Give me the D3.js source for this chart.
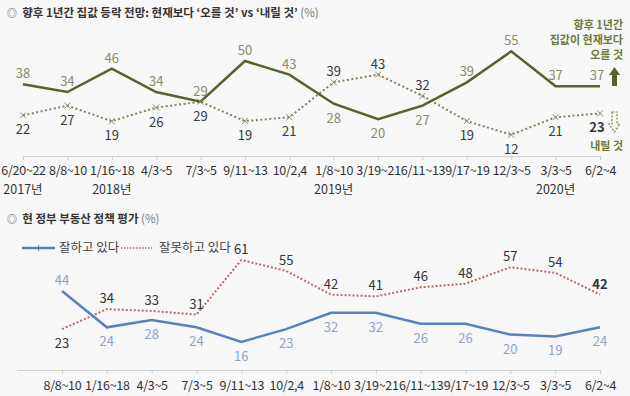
<!DOCTYPE html>
<html>
<head>
<meta charset="utf-8">
<script src="https://cdn.jsdelivr.net/npm/d3@7"></script>
<style>
  body { margin: 0; background: #f7f7f7; }
  svg { display: block; font-family: "Noto Sans CJK KR", "Noto Sans", sans-serif; }
</style>
</head>
<body>
<svg id="chart" width="630" height="396"></svg>
<script>
// top chart: house price outlook
const topDates = ["6/20~22", "8/8~10", "1/16~18", "4/3~5", "7/3~5", "9/11~13", "10/2,4", "1/8~10", "3/19~21", "6/11~13", "9/17~19", "12/3~5", "3/3~5", "6/2~4"];
const topYears = [["6/20~22", "2017년"], ["1/16~18", "2018년"], ["1/8~10", "2019년"], ["3/3~5", "2020년"]];
const riseValues = [38, 34, 46, 34, 29, 50, 43, 28, 20, 27, 39, 55, 37, 37];
const fallValues = [22, 27, 19, 26, 29, 19, 21, 39, 43, 32, 19, 12, 21, 23];

// bottom chart: policy evaluation
const bottomDates = ["8/8~10", "1/16~18", "4/3~5", "7/3~5", "9/11~13", "10/2,4", "1/8~10", "3/19~21", "6/11~13", "9/17~19", "12/3~5", "3/3~5", "6/2~4"];
const goodValues = [44, 24, 28, 24, 16, 23, 32, 32, 26, 26, 20, 19, 24];
const badValues = [23, 34, 33, 31, 61, 55, 42, 41, 46, 48, 57, 54, 42];

const svg = d3.select("#chart");

const olive = "#56622f";
const oliveDot = "#80845f";
const oliveText = "#8a8c6c";
const blue = "#5b80c0";
const blueText = "#8ea2c9";
const red = "#b86a66";

// titles
function title(y, text) {
  const t = svg.append("text").attr("x", 7).attr("y", y).attr("font-size", 11.5).attr("fill", "#333");
  t.append("tspan").attr("font-size", 10).attr("fill", "#555").text("◎ ");
  t.append("tspan").attr("dx", 3).attr("font-weight", "bold").text(text);
  t.append("tspan").attr("fill", "#777").text(" (%)");
}
title(17, "향후 1년간 집값 등락 전망: 현재보다 ‘오를 것’ vs ‘내릴 것’");
title(223, "현 정부 부동산 정책 평가");

// ---------- top chart ----------
const x1 = d3.scalePoint().domain(topDates).range([23, 600]);
const y1 = d3.scaleLinear().domain([0, 50]).range([158, 61]);

const axis1 = svg.append("g")
  .attr("transform", "translate(0,156)")
  .call(d3.axisBottom(x1).tickSize(4).tickSizeOuter(0).tickPadding(6));
axis1.select(".domain").attr("stroke", "#cfcfcf");
axis1.selectAll(".tick line").attr("stroke", "#cfcfcf");
axis1.selectAll(".tick text").attr("font-size", 12.5).attr("fill", "#333")
  .attr("font-family", "'Noto Sans CJK KR', sans-serif").attr("letter-spacing", "-0.3");

svg.append("g").selectAll("text")
  .data(topYears)
  .join("text")
  .attr("x", (d) => x1(d[0]))
  .attr("y", 194)
  .attr("text-anchor", "middle")
  .attr("font-size", 12.5)
  .attr("fill", "#333")
  .text((d) => d[1]);

const line1 = d3.line().x((d, i) => x1(topDates[i])).y((d) => y1(d));

svg.append("path")
  .datum(fallValues)
  .attr("fill", "none")
  .attr("stroke", oliveDot)
  .attr("stroke-width", 2)
  .attr("stroke-dasharray", "2,2.5")
  .attr("d", line1);

svg.append("path")
  .datum(riseValues)
  .attr("fill", "none")
  .attr("stroke", olive)
  .attr("stroke-width", 2.5)
  .attr("d", line1);

// x markers on the falling series
svg.append("g").selectAll("path")
  .data(fallValues)
  .join("path")
  .attr("transform", (d, i) => `translate(${x1(topDates[i])},${y1(d)})`)
  .attr("d", "M-3,-3L3,3M-3,3L3,-3")
  .attr("stroke", "#8d8f70")
  .attr("stroke-width", 1);

// labels: higher series above, lower below
svg.append("g").selectAll("text")
  .data(riseValues)
  .join("text")
  .attr("x", (d, i) => x1(topDates[i]) - (i == topDates.length - 1 ? 3 : 0))
  .attr("y", (d, i) => y1(d) + (d >= fallValues[i] ? -6 : 19))
  .attr("text-anchor", "middle")
  .attr("font-size", 13)
  .attr("fill", oliveText)
  .text((d) => d);

svg.append("g").selectAll("text")
  .data(fallValues)
  .join("text")
  .attr("x", (d, i) => x1(topDates[i]) - (i == topDates.length - 1 ? 3 : 0))
  .attr("y", (d, i) => y1(d) + (d > riseValues[i] ? -6 : 19))
  .attr("text-anchor", "middle")
  .attr("font-size", 13)
  .attr("font-weight", (d, i) => (i == topDates.length - 1 ? "bold" : "normal"))
  .attr("fill", "#3a3a3a")
  .text((d) => d);

// side annotation
const note = svg.append("g").attr("font-size", 11).attr("font-weight", "bold").attr("fill", "#6c7a3c").attr("text-anchor", "end");
["향후 1년간", "집값이 현재보다", "오를 것"].forEach((t, i) => {
  note.append("text").attr("x", 623).attr("y", 29 + i * 15).text(t);
});
note.append("text").attr("x", 623).attr("y", 150).text("내릴 것");

svg.append("path")
  .attr("d", "M614.5,67L620,75L617,75L617,86L612,86L612,75L609,75Z")
  .attr("fill", olive);
svg.append("path")
  .attr("d", "M612,112L617,112L617,124L620,124L614.5,132L609,124L612,124Z")
  .attr("fill", "none")
  .attr("stroke", "#7d8a4a")
  .attr("stroke-width", 1.2)
  .attr("stroke-dasharray", "2,1.5");

// ---------- bottom chart ----------
const x2 = d3.scalePoint().domain(bottomDates).range([62, 600]);
const y2 = d3.scaleLinear().domain([0, 61]).range([371, 260]);

svg.append("line")
  .attr("x1", 17).attr("x2", 62).attr("y1", 370.5).attr("y2", 370.5)
  .attr("stroke", "#cfcfcf");
const axis2 = svg.append("g")
  .attr("transform", "translate(0,370)")
  .call(d3.axisBottom(x2).tickSize(4).tickSizeOuter(0).tickPadding(7));
axis2.select(".domain").attr("stroke", "#cfcfcf");
axis2.selectAll(".tick line").attr("stroke", "#cfcfcf");
axis2.selectAll(".tick text").attr("font-size", 12.5).attr("fill", "#333")
  .attr("font-family", "'Noto Sans CJK KR', sans-serif").attr("letter-spacing", "-0.3");

const line2 = d3.line().x((d, i) => x2(bottomDates[i])).y((d) => y2(d));

svg.append("path")
  .datum(badValues)
  .attr("fill", "none")
  .attr("stroke", red)
  .attr("stroke-width", 2)
  .attr("stroke-dasharray", "2,2")
  .attr("d", line2);

svg.append("path")
  .datum(goodValues)
  .attr("fill", "none")
  .attr("stroke", blue)
  .attr("stroke-width", 2.5)
  .attr("d", line2);

svg.append("g").selectAll("text")
  .data(badValues)
  .join("text")
  .attr("x", (d, i) => x2(bottomDates[i]))
  .attr("y", (d, i) => y2(d) + (d > goodValues[i] ? -6 : 19))
  .attr("text-anchor", "middle")
  .attr("font-size", 13)
  .attr("font-weight", (d, i) => (i == bottomDates.length - 1 ? "bold" : "normal"))
  .attr("fill", "#333")
  .text((d) => d);

svg.append("g").selectAll("text")
  .data(goodValues)
  .join("text")
  .attr("x", (d, i) => x2(bottomDates[i]))
  .attr("y", (d, i) => y2(d) + (d > badValues[i] ? -6 : 19))
  .attr("text-anchor", "middle")
  .attr("font-size", 13)
  .attr("fill", blueText)
  .text((d) => d);

// legend
const legend = svg.append("g").attr("font-size", 12.5).attr("fill", "#444");
legend.append("line").attr("x1", 22).attr("x2", 55).attr("y1", 248).attr("y2", 248)
  .attr("stroke", blue).attr("stroke-width", 2.5);
legend.append("line").attr("x1", 38.5).attr("x2", 38.5).attr("y1", 245).attr("y2", 251)
  .attr("stroke", blue).attr("stroke-width", 1);
legend.append("text").attr("x", 59).attr("y", 252).text("잘하고 있다");
legend.append("line").attr("x1", 121).attr("x2", 152).attr("y1", 248).attr("y2", 248)
  .attr("stroke", red).attr("stroke-width", 1.5).attr("stroke-dasharray", "1.5,1.5");
legend.append("text").attr("x", 159).attr("y", 252).text("잘못하고 있다");
</script>
</body>
</html>
